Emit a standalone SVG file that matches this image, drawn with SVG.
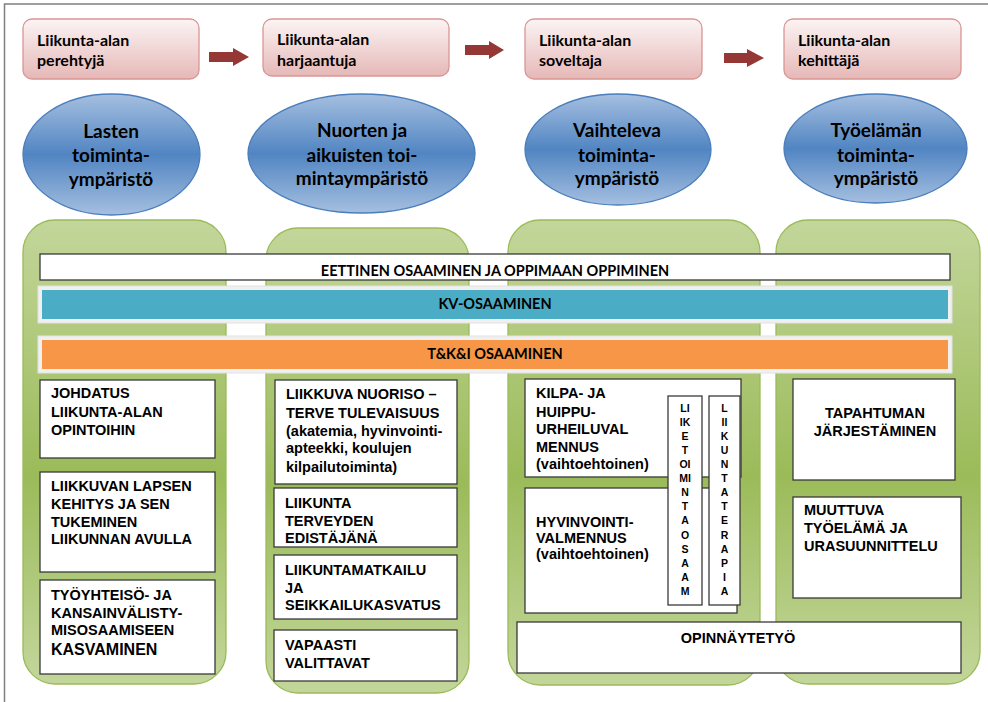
<svg xmlns="http://www.w3.org/2000/svg" width="988" height="702" viewBox="0 0 988 702">
<defs>
<linearGradient id="gPink" x1="0" y1="0" x2="0" y2="1">
<stop offset="0" stop-color="#fcf4f4"/>
<stop offset="1" stop-color="#e5b8b7"/>
</linearGradient>
<linearGradient id="gBlue" x1="0" y1="0" x2="0" y2="1">
<stop offset="0" stop-color="#a5bfe0"/>
<stop offset="0.5" stop-color="#5185c2"/>
<stop offset="1" stop-color="#a5bfe0"/>
</linearGradient>
<linearGradient id="gGreen" x1="0" y1="0" x2="0" y2="1">
<stop offset="0" stop-color="#c3d69b"/>
<stop offset="0.55" stop-color="#9bbb59"/>
<stop offset="1" stop-color="#c3d69b"/>
</linearGradient>
<style>
.frame{fill:none;stroke:#7f7f7f;stroke-width:1.5}
.top{fill:url(#gPink);stroke:#d99694;stroke-width:1.3}
.ell{fill:url(#gBlue);stroke:#4a7ebb;stroke-width:1.3}
.col{fill:url(#gGreen);stroke:#9bbb59;stroke-width:1.3}
.box{fill:#ffffff;stroke:#3a3a3a;stroke-width:1.3}
.rim{fill:#f0f0f0;stroke:#e2e2e2;stroke-width:1}
.arrow{fill:#953735}
.tc{font-family:Lato,"Liberation Sans",sans-serif;font-weight:bold;fill:#000}
.t15{font-size:16px}
.t18{font-size:19px;text-anchor:middle}
.band{font-size:14.5px;text-anchor:middle}
.ta{font-family:"Liberation Sans",Arial,sans-serif;font-weight:bold;font-size:14.5px;fill:#000}
.mid{text-anchor:middle}
.v{font-family:"Liberation Sans",Arial,sans-serif;font-weight:bold;font-size:10.5px;fill:#000;text-anchor:middle}
</style>
</defs>
<rect class="frame" x="4.5" y="4" width="1000" height="720"/>

<g id="stage1"><rect class="top" x="23" y="19" width="176" height="60" rx="9"/><text class="tc t15" x="37"><tspan x="37" y="46">Liikunta-alan</tspan><tspan x="37" y="66">perehtyjä</tspan></text></g>
<g id="stage2"><rect class="top" x="263" y="19" width="186" height="57" rx="9"/><text class="tc t15"><tspan x="277" y="45">Liikunta-alan</tspan><tspan x="277" y="66">harjaantuja</tspan></text></g>
<g id="stage3"><rect class="top" x="525" y="19" width="177" height="60" rx="9"/><text class="tc t15"><tspan x="539" y="46">Liikunta-alan</tspan><tspan x="539" y="66">soveltaja</tspan></text></g>
<g id="stage4"><rect class="top" x="784" y="19" width="177" height="60" rx="9"/><text class="tc t15"><tspan x="798" y="46">Liikunta-alan</tspan><tspan x="798" y="66">kehittäjä</tspan></text></g>

<g id="connectors">
<polygon class="arrow" points="209,52 233,52 233,48 249,57 233,66 233,62 209,62"/>
<polygon class="arrow" points="465,45 489,45 489,41 504,50 489,59 489,55 465,55"/>
<polygon class="arrow" points="724,53 747,53 747,49 764,58 747,67 747,63 724,63"/>
</g>

<g id="env1"><ellipse class="ell" cx="111.5" cy="154.5" rx="88.5" ry="60.5"/><text class="tc t18"><tspan x="111" y="138">Lasten</tspan><tspan x="111" y="162">toiminta-</tspan><tspan x="111" y="186">ympäristö</tspan></text></g>
<g id="env2"><ellipse class="ell" cx="361.5" cy="153.5" rx="113.5" ry="59.5"/><text class="tc t18"><tspan x="362" y="137">Nuorten ja</tspan><tspan x="362" y="162">aikuisten toi-</tspan><tspan x="362" y="185">mintaympäristö</tspan></text></g>
<g id="env3"><ellipse class="ell" cx="618" cy="149.5" rx="93" ry="55.5"/><text class="tc t18"><tspan x="617" y="137">Vaihteleva</tspan><tspan x="617" y="162">toiminta-</tspan><tspan x="617" y="185">ympäristö</tspan></text></g>
<g id="env4"><ellipse class="ell" cx="875.5" cy="148.5" rx="91.5" ry="54.5"/><text class="tc t18"><tspan x="876" y="137">Työelämän</tspan><tspan x="876" y="162">toiminta-</tspan><tspan x="876" y="185">ympäristö</tspan></text></g>

<g id="col1"><rect class="col" x="23" y="220" width="203" height="464" rx="32"/></g>
<g id="col2"><rect class="col" x="266" y="228" width="203" height="465" rx="32"/></g>
<g id="col3"><rect class="col" x="508" y="220" width="252" height="465" rx="32"/></g>
<g id="col4"><rect class="col" x="776" y="220" width="204" height="464" rx="32"/></g>

<g id="ethics"><rect class="box" x="40" y="254" width="910" height="26"/><text class="tc band" x="495" y="275.5">EETTINEN OSAAMINEN JA OPPIMAAN OPPIMINEN</text></g>
<g id="kv"><rect class="rim" x="38" y="286" width="914" height="37"/><rect x="42" y="290" width="906" height="29" fill="#4bacc6"/><text class="tc band" x="495" y="308.5">KV-OSAAMINEN</text></g>
<g id="tki"><rect class="rim" x="38" y="336" width="914" height="37"/><rect x="42" y="340" width="906" height="29" fill="#f79646"/><text class="tc band" x="495" y="359">T&amp;K&amp;I OSAAMINEN</text></g>

<g id="boxA"><rect class="box" x="40" y="380" width="175" height="78"/><text class="ta"><tspan x="51" y="398">JOHDATUS</tspan><tspan x="51" y="417">LIIKUNTA-ALAN</tspan><tspan x="51" y="435">OPINTOIHIN</tspan></text></g>
<g id="boxB"><rect class="box" x="40" y="472" width="175" height="100"/><text class="ta"><tspan x="51" y="491">LIIKKUVAN LAPSEN</tspan><tspan x="51" y="509">KEHITYS JA SEN</tspan><tspan x="51" y="527">TUKEMINEN</tspan><tspan x="51" y="544">LIIKUNNAN AVULLA</tspan></text></g>
<g id="boxC"><rect class="box" x="40" y="580" width="175" height="94"/><text class="ta"><tspan x="51" y="600">TYÖYHTEISÖ- JA</tspan><tspan x="51" y="618">KANSAINVÄLISTY-</tspan><tspan x="51" y="635">MISOSAAMISEEN</tspan><tspan x="51" y="655" font-size="16">KASVAMINEN</tspan></text></g>

<g id="boxD"><rect class="box" x="275" y="380" width="182" height="104"/><text class="ta"><tspan x="286" y="399">LIIKKUVA NUORISO –</tspan><tspan x="286" y="418">TERVE TULEVAISUUS</tspan><tspan x="286" y="436">(akatemia, hyvinvointi-</tspan><tspan x="286" y="453">apteekki, koulujen</tspan><tspan x="286" y="472">kilpailutoiminta)</tspan></text></g>
<g id="boxE"><rect class="box" x="274" y="488" width="183" height="59"/><text class="ta"><tspan x="285" y="508">LIIKUNTA</tspan><tspan x="285" y="526">TERVEYDEN</tspan><tspan x="285" y="543">EDISTÄJÄNÄ</tspan></text></g>
<g id="boxF"><rect class="box" x="274" y="555" width="183" height="64"/><text class="ta"><tspan x="285" y="575">LIIKUNTAMATKAILU</tspan><tspan x="285" y="593">JA</tspan><tspan x="285" y="610">SEIKKAILUKASVATUS</tspan></text></g>
<g id="boxG"><rect class="box" x="274" y="630" width="183" height="51"/><text class="ta"><tspan x="285" y="650">VAPAASTI</tspan><tspan x="285" y="668">VALITTAVAT</tspan></text></g>

<g id="boxH"><rect class="box" x="525" y="379" width="216" height="98"/><text class="ta"><tspan x="536" y="398">KILPA- JA</tspan><tspan x="536" y="417">HUIPPU-</tspan><tspan x="536" y="434">URHEILUVAL</tspan><tspan x="536" y="452">MENNUS</tspan><tspan x="536" y="469">(vaihtoehtoinen)</tspan></text></g>
<g id="boxI"><rect class="box" x="525" y="488" width="212" height="125"/><text class="ta"><tspan x="536" y="527">HYVINVOINTI-</tspan><tspan x="536" y="543">VALMENNUS</tspan><tspan x="536" y="559">(vaihtoehtoinen)</tspan></text></g>
<g id="boxJ"><rect class="box" x="668" y="396" width="34" height="209"/><text class="v"><tspan x="685" y="412">LI</tspan><tspan x="685" y="426">IK</tspan><tspan x="685" y="440">E</tspan><tspan x="685" y="454">T</tspan><tspan x="685" y="468">OI</tspan><tspan x="685" y="482">MI</tspan><tspan x="685" y="496">N</tspan><tspan x="685" y="510">T</tspan><tspan x="685" y="524">A</tspan><tspan x="685" y="539">O</tspan><tspan x="685" y="553">S</tspan><tspan x="685" y="567">A</tspan><tspan x="685" y="581">A</tspan><tspan x="685" y="595">M</tspan></text></g>
<g id="boxK"><rect class="box" x="709" y="396" width="31" height="209"/><text class="v"><tspan x="724.5" y="412">L</tspan><tspan x="724.5" y="426">II</tspan><tspan x="724.5" y="440">K</tspan><tspan x="724.5" y="454">U</tspan><tspan x="724.5" y="468">N</tspan><tspan x="724.5" y="482">T</tspan><tspan x="724.5" y="496">A</tspan><tspan x="724.5" y="510">T</tspan><tspan x="724.5" y="524">E</tspan><tspan x="724.5" y="539">R</tspan><tspan x="724.5" y="553">A</tspan><tspan x="724.5" y="567">P</tspan><tspan x="724.5" y="581">I</tspan><tspan x="724.5" y="595">A</tspan></text></g>
<g id="boxL"><rect class="box" x="517" y="622" width="444" height="51"/><text class="ta mid" x="738" y="643" font-size="16">OPINNÄYTETYÖ</text></g>

<g id="boxM"><rect class="box" x="793" y="379" width="162" height="101"/><text class="ta mid"><tspan x="875" y="418">TAPAHTUMAN</tspan><tspan x="875" y="436">JÄRJESTÄMINEN</tspan></text></g>
<g id="boxN"><rect class="box" x="793" y="497" width="168" height="101"/><text class="ta"><tspan x="804" y="515">MUUTTUVA</tspan><tspan x="804" y="533">TYÖELÄMÄ JA</tspan><tspan x="804" y="551">URASUUNNITTELU</tspan></text></g>
</svg>
